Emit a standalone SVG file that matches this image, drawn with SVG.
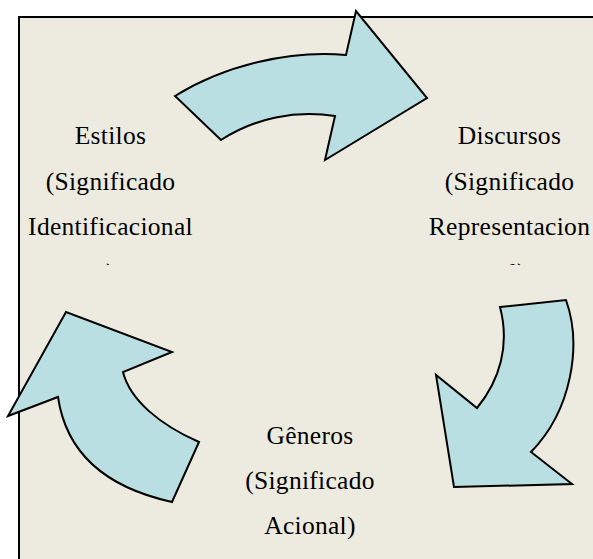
<svg xmlns="http://www.w3.org/2000/svg" width="593" height="559" viewBox="0 0 593 559">
<style>
.arrow{fill:#b9dfe3;stroke:#000;stroke-width:2;stroke-linejoin:miter}
.lbl{font-family:"Liberation Serif","Times New Roman",serif;font-size:25.5px;letter-spacing:0.3px;fill:#000;text-anchor:middle}
</style>
<defs>
<clipPath id="topclip"><rect x="0" y="0" width="593" height="265"/></clipPath>
</defs>
<rect x="0" y="0" width="593" height="559" fill="#ffffff"/>
<rect id="frame" x="19" y="17" width="600" height="600" fill="#edebe0" stroke="#000" stroke-width="2"/>
<g id="connectors">
<path id="arrow-top" class="arrow" d="M175,96 C225,65 290,50 346,55 L356,11 L427,98 L325,160 L335,116 C295,110 255,118 221,140 Z"/>
<path id="arrow-right" class="arrow" d="M500,307 L566,300 C582,345 572,410 531,452 L572,484 L454,487 L436,375 L477,408 C500,380 510,345 500,307 Z"/>
<path id="arrow-left" class="arrow" d="M172,502 L199,442 C160,425 130,400 123,372 L172,352 L66,312 L8,416 L58,397 C65,445 95,485 172,502 Z"/>
</g>
<g id="estilos" clip-path="url(#topclip)">
<text class="lbl" x="110.5" y="144">Estilos</text>
<text class="lbl" x="110.5" y="189.5">(Significado</text>
<text class="lbl" x="110.5" y="235">Identificacional</text>
<text class="lbl" x="110.5" y="281">)</text>
</g>
<g id="discursos" clip-path="url(#topclip)">
<text class="lbl" x="509.5" y="144">Discursos</text>
<text class="lbl" x="509.5" y="189.5">(Significado</text>
<text class="lbl" x="509.5" y="235">Representacion</text>
<text class="lbl" x="512" y="281">al)</text>
</g>
<g id="generos">
<text class="lbl" x="310" y="444">Gêneros</text>
<text class="lbl" x="310" y="489">(Significado</text>
<text class="lbl" x="310" y="534">Acional)</text>
</g>
</svg>
